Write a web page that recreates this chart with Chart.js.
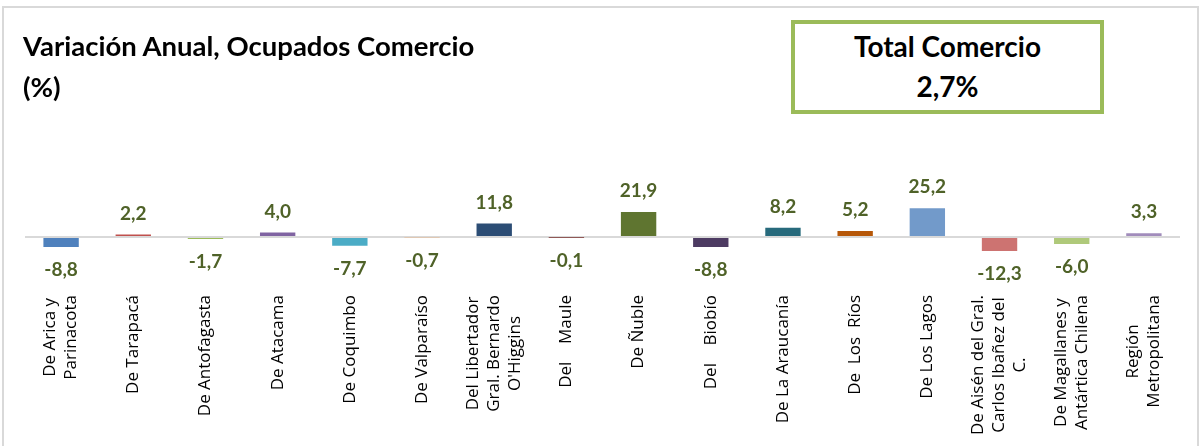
<!DOCTYPE html>
<html>
<head>
<meta charset="utf-8">
<script src="https://cdn.jsdelivr.net/npm/chart.js@4.4.1/dist/chart.umd.min.js"></script>
<style>
  html, body { margin: 0; padding: 0; background: #ffffff; }
  #wrap { position: relative; width: 1203px; height: 446px; overflow: hidden; background: #fff; }
  #frame { position: absolute; left: 2px; top: 6px; width: 1197px; height: 460px; border: 2px solid #d9d9d9; box-sizing: border-box; }
  #chart { position: absolute; left: 0; top: 0; }
  #title { position: absolute; left: 23px; top: 25px; font-family: Lato, sans-serif; font-weight: 700; font-size: 27.5px; line-height: 41px; color: #000; white-space: nowrap; }
  #box { position: absolute; left: 791px; top: 20px; width: 313px; height: 94px; border: 4px solid #9BBB59; box-sizing: border-box; background: #fff; text-align: center; font-family: Lato, sans-serif; font-weight: 700; font-size: 28px; color: #000; }
  #box .l1 { position: absolute; left: 0; right: 0; top: 5px; }
  #box .l2 { position: absolute; left: 0; right: 0; top: 45px; }
  #fontprobe { position: absolute; left: -999px; font-family: "Open Sans"; }
</style>
</head>
<body>
<div id="wrap">
  <div id="frame"></div>
  <canvas id="chart" width="1203" height="446"></canvas>
  <div id="title">Variación Anual, Ocupados Comercio<br>(%)</div>
  <div id="box"><div class="l1">Total Comercio</div><div class="l2">2,7%</div></div>
  <div id="fontprobe">De Antofagasta</div>
</div>
<script>
// ---- data ----
const categories = [
  ["De Arica y", "Parinacota"],
  "De Tarapacá",
  "De Antofagasta",
  "De Atacama",
  "De Coquimbo",
  "De Valparaíso",
  ["Del Libertador", "Gral. Bernardo", "O'Higgins"],
  "Del    Maule",
  "De Ñuble",
  "Del    Biobío",
  "De La Araucanía",
  "De  Los  Ríos",
  "De Los Lagos",
  ["De Aisén del Gral.", "Carlos Ibañez del", "C."],
  ["De Magallanes y", "Antártica Chilena"],
  ["Región", "Metropolitana"]
];
const variacion = [-8.8, 2.2, -1.7, 4.0, -7.7, -0.7, 11.8, -0.1, 21.9, -8.8, 8.2, 5.2, 25.2, -12.3, -6.0, 3.3];
const barColors = ["#4F81BD", "#C0504D", "#9BBB59", "#8064A2", "#4BACC6", "#F79646", "#2C4D75", "#772C2A",
                   "#5F7530", "#4D3B62", "#276A7C", "#B65708", "#729ACA", "#CD7371", "#AFC97A", "#A18CBB"];

const fmt = v => v.toFixed(1).replace('.', ',');

const valueLabels = {
  id: 'valueLabels',
  afterDatasetsDraw(chart) {
    const ctx = chart.ctx;
    const meta = chart.getDatasetMeta(0);
    ctx.save();
    ctx.font = 'bold 19px Lato, sans-serif';
    ctx.fillStyle = '#4F6228';
    ctx.textAlign = 'center';
    ctx.textBaseline = 'middle';
    meta.data.forEach((bar, i) => {
      const v = variacion[i];
      const y = v >= 0 ? Math.min(bar.y, bar.base) - 21 : Math.max(bar.y, bar.base) + 23;
      ctx.fillText(fmt(v), bar.x, y);
    });
    ctx.restore();
  }
};

const categoryLabels = {
  id: 'categoryLabels',
  afterDraw(chart) {
    const ctx = chart.ctx;
    const xs = chart.scales.x;
    const top = chart.chartArea.bottom + 3;
    const lh = 21;
    ctx.save();
    ctx.font = '17px "Open Sans", sans-serif';
    ctx.fillStyle = '#000';
    ctx.textAlign = 'center';
    ctx.textBaseline = 'middle';
    categories.forEach((lab, i) => {
      const lines = Array.isArray(lab) ? lab : [lab];
      const w = Math.max(...lines.map(l => ctx.measureText(l).width));
      const x = xs.getPixelForTick(i);
      ctx.save();
      ctx.translate(x, top);
      ctx.rotate(-Math.PI / 2);
      lines.forEach((l, j) => {
        ctx.fillText(l, -w / 2, (j - (lines.length - 1) / 2) * lh);
      });
      ctx.restore();
    });
    ctx.restore();
  }
};

new Chart(document.getElementById('chart'), {
  type: 'bar',
  data: {
    labels: categories,
    datasets: [{
      data: variacion,
      backgroundColor: barColors,
      borderWidth: 0,
      barPercentage: 0.49,
      categoryPercentage: 1.0
    }]
  },
  options: {
    responsive: false,
    animation: false,
    events: [],
    layout: { padding: { left: 25, right: 23, top: 150, bottom: 0 } },
    plugins: { legend: { display: false }, title: { display: false }, tooltip: { enabled: false } },
    scales: {
      x: {
        display: true,
        grid: { display: false, drawTicks: false },
        border: { display: false },
        ticks: { display: false },
        afterFit: s => { s.height = 154; }
      },
      y: {
        display: true,
        min: -48,
        max: 76,
        z: 1,
        ticks: { display: false, stepSize: 4 },
        border: { display: false },
        grid: {
          drawTicks: false,
          lineWidth: 2,
          color: c => (c.tick && c.tick.value === 0) ? '#d9d9d9' : 'rgba(0,0,0,0)'
        },
        afterFit: s => { s.width = 0; }
      }
    }
  },
  plugins: [valueLabels, categoryLabels]
});
</script>
</body>
</html>
